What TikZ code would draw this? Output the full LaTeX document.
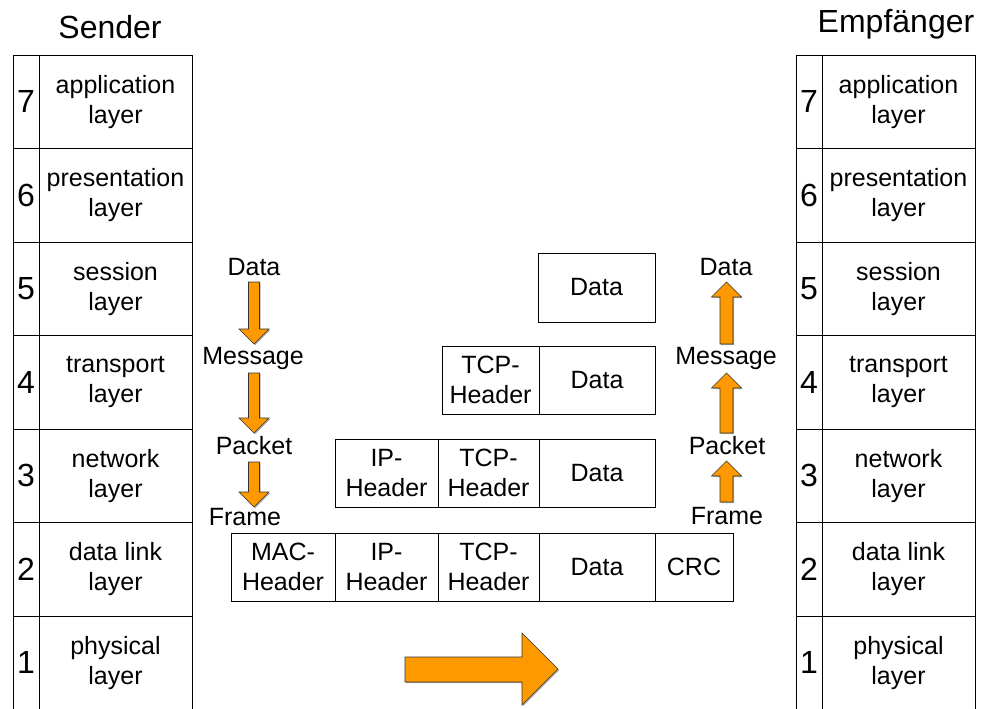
\documentclass[tikz,border=0pt]{standalone}
\usepackage{fontspec}
\setmainfont{Liberation Sans}
\usetikzlibrary{calc,shadows}
\definecolor{arroworange}{HTML}{FF9900}
\begin{document}
\begin{tikzpicture}[x=1pt,y=-1pt,
  txt/.style={font=\fontsize{25}{30}\selectfont},
  cell/.style={txt, draw, line width=0.9pt, inner sep=0pt, align=center},
  numcell/.style={cell, minimum width=26pt, minimum height=93.5pt, font=\fontsize{32}{36}\selectfont},
  laycell/.style={cell, minimum width=153pt, minimum height=93.5pt},
  pkt/.style={cell, minimum height=68pt},
  lbl/.style={txt, inner sep=0pt},
  title/.style={font=\fontsize{32}{38}\selectfont, inner sep=0pt},
  blockfill/.style={fill=arroworange, draw=black!80, line width=0.6pt,
    drop shadow={shadow xshift=1.2pt, shadow yshift=-1.2pt, fill=black!45, opacity=0.7}},
  blockdown/.style={to path={let \p1=(\tikztostart), \p2=(\tikztotarget) in
    (\x1-5.5pt,\y1) -- (\x1+5.5pt,\y1) -- (\x1+5.5pt,\y2+15pt) -- (\x1+15pt,\y2+15pt)
    -- (\x1,\y2) -- (\x1-15pt,\y2+15pt) -- (\x1-5.5pt,\y2+15pt) -- cycle}},
  blockup/.style={to path={let \p1=(\tikztostart), \p2=(\tikztotarget) in
    (\x1-6.5pt,\y1) -- (\x1+6.5pt,\y1) -- (\x1+6.5pt,\y2-15pt) -- (\x1+15pt,\y2-15pt)
    -- (\x1,\y2) -- (\x1-15pt,\y2-15pt) -- (\x1-6.5pt,\y2-15pt) -- cycle}}
]
\useasboundingbox (0,0) rectangle (982,709);

% titles
\node[title] (sender) at (110,27) {Sender};
\node[title] (receiver) at (896,24) {Empfänger};

% OSI layer stacks, sender and receiver
\foreach \n/\lay [count=\k from 0] in
  {7/{application\\layer}, 6/{presentation\\layer}, 5/{session\\layer},
   4/{transport\\layer}, 3/{network\\layer}, 2/{data link\\layer}, 1/{physical\\layer}}{
  \node[numcell] (snum\n) at (26,{55+93.5*\k+46.75}) {\n};
  \node[laycell] (slay\n) at (115.5,{55+93.5*\k+46.75}) {\lay};
  \node[numcell] (rnum\n) at (809,{55+93.5*\k+46.75}) {\n};
  \node[laycell] (rlay\n) at (898.5,{55+93.5*\k+46.75}) {\lay};
}

% encapsulated units
\node[pkt, minimum width=117pt, minimum height=69pt] (d5) at (596.5,287.5) {Data};

\node[pkt, minimum width=97pt] (tcp4) at (490.5,380) {TCP-\\Header};
\node[pkt, minimum width=116pt] (d4) at (597,380) {Data};

\node[pkt, minimum width=103pt] (ip3) at (386.5,473) {IP-\\Header};
\node[pkt, minimum width=101pt] (tcp3) at (488.5,473) {TCP-\\Header};
\node[pkt, minimum width=116pt] (d3) at (597,473) {Data};

\node[pkt, minimum width=104pt] (mac2) at (283,567) {MAC-\\Header};
\node[pkt, minimum width=103pt] (ip2) at (386.5,567) {IP-\\Header};
\node[pkt, minimum width=101pt] (tcp2) at (488.5,567) {TCP-\\Header};
\node[pkt, minimum width=116pt] (d2) at (597,567) {Data};
\node[pkt, minimum width=78pt] (crc2) at (694,567) {CRC};

% unit names, sending side
\node[lbl] (ldata) at (254,267) {Data};
\node[lbl] (lmsg) at (253,358) {Message};
\node[lbl] (lpkt) at (254,446) {Packet};
\node[lbl] (lfrm) at (245,517) {Frame};

% unit names, receiving side
\node[lbl] (rdata) at (726,267) {Data};
\node[lbl] (rmsg) at (726,358) {Message};
\node[lbl] (rpkt) at (727,446) {Packet};
\node[lbl] (rfrm) at (727,516) {Frame};

% arrow ends
\coordinate (la1) at (254,282); \coordinate (la2) at (254,344);
\coordinate (lb1) at (254,373); \coordinate (lb2) at (254,433);
\coordinate (lc1) at (254,462); \coordinate (lc2) at (254,507);
\coordinate (ra1) at (726.5,344); \coordinate (ra2) at (726.5,282);
\coordinate (rb1) at (726.5,433); \coordinate (rb2) at (726.5,373);
\coordinate (rc1) at (726.5,502); \coordinate (rc2) at (726.5,461);

% downward encapsulation arrows
\path[blockfill] (la1) to[blockdown] (la2);
\path[blockfill] (lb1) to[blockdown] (lb2);
\path[blockfill] (lc1) to[blockdown] (lc2);

% upward decapsulation arrows
\path[blockfill] (ra1) to[blockup] (ra2);
\path[blockfill] (rb1) to[blockup] (rb2);
\path[blockfill] (rc1) to[blockup] (rc2);

% transmission arrow
\path[blockfill] (405,657) -- (522,657) -- (522,633) -- (558,669)
  -- (522,705) -- (522,682) -- (405,682) -- cycle;
\end{tikzpicture}
\end{document}
